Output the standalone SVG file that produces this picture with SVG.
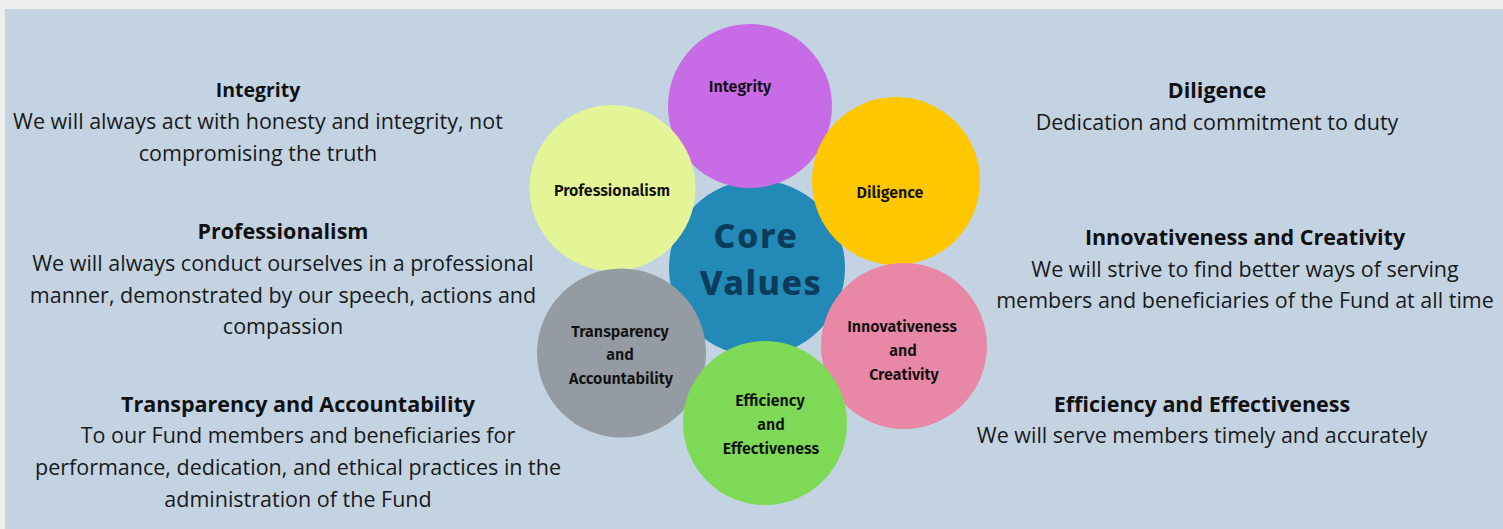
<svg xmlns="http://www.w3.org/2000/svg" width="1503" height="529" viewBox="0 0 1503 529">
<style>
.h{font-family:"Open Sans","Liberation Sans",sans-serif;font-weight:700;font-size:21.5px;fill:#111;text-anchor:middle}
.t{font-family:"Open Sans","Liberation Sans",sans-serif;font-weight:400;font-size:21.5px;fill:#1a1a1a;text-anchor:middle}
.c{font-family:"Fira Sans","Noto Sans","Open Sans",sans-serif;font-weight:600;font-size:16px;fill:#111;text-anchor:middle}
.core{font-family:"Noto Sans","Inter",sans-serif;font-weight:800;font-size:34px;fill:#0c3c5c;text-anchor:middle;letter-spacing:1.5px}
</style>
<rect x="0" y="0" width="1503" height="529" fill="#eeeeee"/>
<rect x="5" y="9" width="1498" height="520" fill="#c3d3e2"/>

<g id="text-left">
<text class="h" x="258" y="97" style="font-size:19.5px">Integrity</text>
<text class="t" x="258" y="129">We will always act with honesty and integrity, not</text>
<text class="t" x="258" y="161">compromising the truth</text>
<text class="h" x="283" y="239">Professionalism</text>
<text class="t" x="283" y="271">We will always conduct ourselves in a professional</text>
<text class="t" x="283" y="303">manner, demonstrated by our speech, actions and</text>
<text class="t" x="283" y="334">compassion</text>
<text class="h" x="298" y="412">Transparency and Accountability</text>
<text class="t" x="298" y="443">To our Fund members and beneficiaries for</text>
<text class="t" x="298" y="475">performance, dedication, and ethical practices in the</text>
<text class="t" x="298" y="507">administration of the Fund</text>
</g>
<g id="text-right">
<text class="h" x="1217" y="98">Diligence</text>
<text class="t" x="1217" y="130">Dedication and commitment to duty</text>
<text class="h" x="1245" y="245">Innovativeness and Creativity</text>
<text class="t" x="1245" y="277">We will strive to find better ways of serving</text>
<text class="t" x="1245" y="308">members and beneficiaries of the Fund at all time</text>
<text class="h" x="1202" y="412">Efficiency and Effectiveness</text>
<text class="t" x="1202" y="443">We will serve members timely and accurately</text>
</g>

<g id="core">
<circle cx="757" cy="268" r="88" fill="#2389b6"/>
<text class="core" x="756" y="248">Core</text>
<text class="core" x="761" y="295">Values</text>
</g>
<g id="integrity">
<circle cx="750" cy="106" r="82" fill="#c86be6"/>
<text class="c" x="740" y="92">Integrity</text>
</g>
<g id="professionalism">
<circle cx="612.5" cy="188" r="83" fill="#e4f598"/>
<text class="c" x="612" y="196">Professionalism</text>
</g>
<g id="diligence">
<circle cx="896" cy="181" r="84" fill="#ffc700"/>
<text class="c" x="890" y="198">Diligence</text>
</g>
<g id="transparency">
<circle cx="621.5" cy="353" r="84.5" fill="#959ba2"/>
<text class="c" x="620" y="337">Transparency</text>
<text class="c" x="620" y="360">and</text>
<text class="c" x="621" y="384">Accountability</text>
</g>
<g id="innovativeness">
<circle cx="904" cy="346" r="83" fill="#e888a6"/>
<text class="c" x="902" y="332">Innovativeness</text>
<text class="c" x="903" y="356">and</text>
<text class="c" x="904" y="380">Creativity</text>
</g>
<g id="efficiency">
<circle cx="765" cy="423" r="82" fill="#7ed957"/>
<text class="c" x="770" y="406">Efficiency</text>
<text class="c" x="771" y="430">and</text>
<text class="c" x="771" y="454">Effectiveness</text>
</g>
<g id="connectors"/>
</svg>
